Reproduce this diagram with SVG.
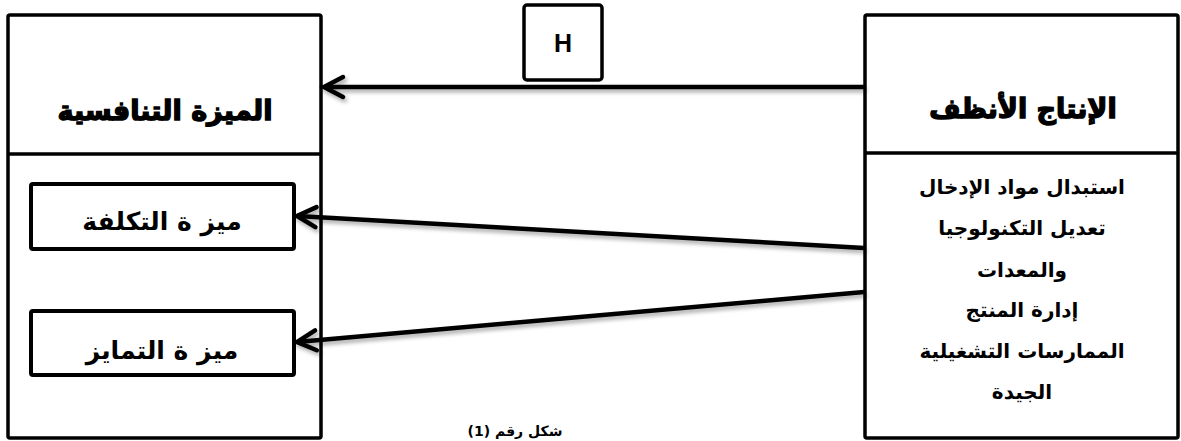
<svg xmlns="http://www.w3.org/2000/svg" width="1181" height="441" viewBox="0 0 1181 441">
<style>
.box{fill:#fff;stroke:#000;stroke-width:3.5}
.inner{fill:#fff;stroke:#000;stroke-width:4}
.div{stroke:#000;stroke-width:3.5}
.conn{stroke:#000;stroke-width:4.5;fill:none}
.title{font-family:"DejaVu Sans",sans-serif;font-weight:bold;font-size:27px;text-anchor:middle;fill:#000;stroke:#000;stroke-width:1.4}
.item{font-family:"DejaVu Sans",sans-serif;font-weight:bold;font-size:25px;text-anchor:middle;fill:#000}
.body{font-family:"DejaVu Sans",sans-serif;font-weight:bold;font-size:20px;text-anchor:middle;fill:#000}
.cap{font-family:"DejaVu Sans",sans-serif;font-weight:bold;font-size:14px;text-anchor:middle;fill:#000}
.lbl{font-family:"Liberation Sans",Arial,sans-serif;font-weight:bold;font-size:25px;text-anchor:middle;fill:#000}
</style>
<defs>
<filter id="sh" filterUnits="userSpaceOnUse" x="0" y="0" width="1181" height="441">
<feGaussianBlur in="SourceAlpha" stdDeviation="2"/>
<feOffset dx="2" dy="3" result="b"/>
<feComponentTransfer><feFuncA type="linear" slope="0.35"/></feComponentTransfer>
<feMerge><feMergeNode/><feMergeNode in="SourceGraphic"/></feMerge>
</filter>
<marker id="arr" viewBox="-24 -14 28 28" refX="0" refY="0" markerWidth="28" markerHeight="28" markerUnits="userSpaceOnUse" orient="auto" overflow="visible">
<path d="M-19,-10 L0,0 L-19,10" fill="none" stroke="#000" stroke-width="4.5" stroke-linecap="round" stroke-linejoin="miter"/>
</marker>
</defs>
<rect width="1181" height="441" fill="#fff"/>

<g id="node-competitive">
<rect class="box" x="8" y="15" width="313" height="423" rx="2"/>
<line class="div" x1="8" y1="154" x2="321" y2="154"/>
<text class="title" x="165" y="120">الميزة التنافسية</text>
</g>

<g id="node-cost">
<rect class="inner" x="31" y="184" width="263" height="65" rx="2"/>
<text class="item" x="162" y="230">ميز ة التكلفة</text>
</g>

<g id="node-diff">
<rect class="inner" x="31" y="311" width="263" height="64" rx="2"/>
<text class="item" x="162" y="359">ميز ة التمايز</text>
</g>

<g id="node-cleaner">
<rect class="box" x="865" y="15" width="313" height="423" rx="2"/>
<line class="div" x1="865" y1="153" x2="1178" y2="153"/>
<text class="title" x="1023" y="118">الإنتاج الأنظف</text>
<text class="body" x="1022" y="194">استبدال مواد الإدخال</text>
<text class="body" x="1022" y="235">تعديل التكنولوجيا</text>
<text class="body" x="1022" y="277">والمعدات</text>
<text class="body" x="1022" y="317">إدارة المنتج</text>
<text class="body" x="1022" y="358">الممارسات التشغيلية</text>
<text class="body" x="1022" y="399">الجيدة</text>
</g>

<g id="node-H">
<rect class="box" x="524" y="5" width="78" height="75" rx="3" stroke-width="4"/>
<text class="lbl" x="563" y="52">H</text>
</g>

<g id="connectors" filter="url(#sh)">
<line class="conn" x1="864" y1="87" x2="324" y2="87" marker-end="url(#arr)"/>
<line class="conn" x1="864" y1="248" x2="297" y2="216" marker-end="url(#arr)"/>
<line class="conn" x1="864" y1="292" x2="297" y2="342" marker-end="url(#arr)"/>
</g>

<text class="cap" x="515" y="436">شكل رقم (1)</text>
</svg>
